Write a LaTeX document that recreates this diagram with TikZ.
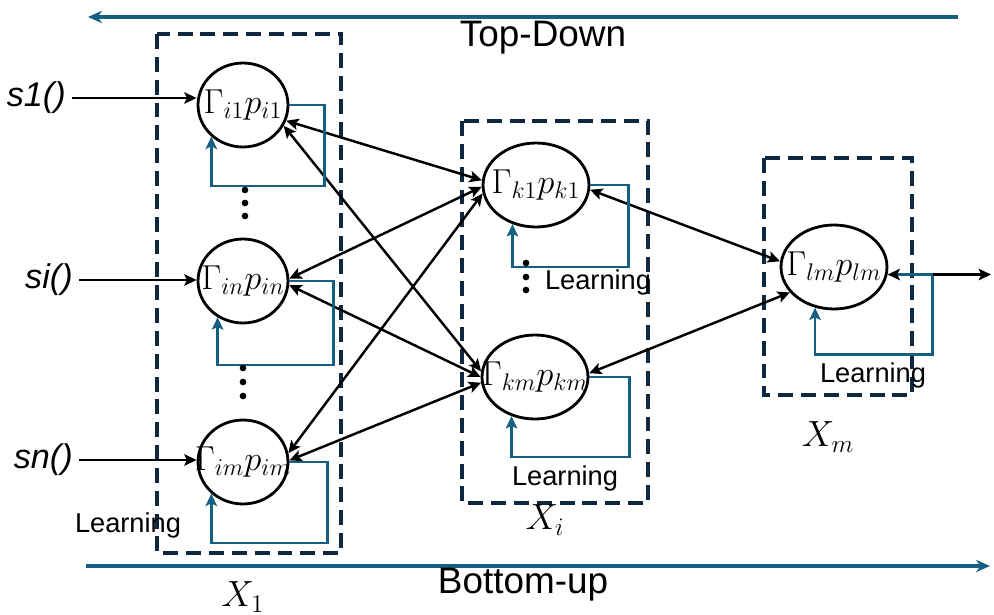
\documentclass[tikz,border=0pt]{standalone}
\usepackage{amsmath}
\usepackage{graphicx}
\usepackage[no-math]{fontspec}
\setmainfont{Liberation Sans}
\usepackage{tikz}
\usetikzlibrary{arrows.meta, shapes.geometric}

\definecolor{flowblue}{HTML}{156082}
\definecolor{boxnavy}{HTML}{0E2841}

\newcommand{\gammap}[1]{\makebox[0pt]{\scalebox{1.14}{$\Gamma_{#1}p_{#1}$}}}

\begin{document}
\begin{tikzpicture}[x = 0.02cm, y = -0.02cm, >={Stealth[length=7pt, width=6.5pt, inset=1.5pt]},
    neuron/.style = {draw, ellipse, line width = 1.6pt, inner sep = 0pt, minimum width = 1.8cm, minimum height = 1.68cm, font = \fontsize{17.28}{20}\selectfont},
    wideneuron/.style = {minimum width = 2.12cm},
    group/.style = {draw = boxnavy, line width = 1.8pt, dash pattern = on 8.5pt off 4.5pt},
    learn/.style = {draw = flowblue, line width = 1.5pt},
    link/.style = {<->, line width = 1.4pt},
    flow/.style = {draw = flowblue, line width = 1.8pt, -{Stealth[length=8pt, width=7pt]}},
    flowlabel/.style = {font = \fontsize{21}{25}\selectfont},
    learnlabel/.style = {font = \fontsize{15.5}{18}\selectfont},
    signal/.style = {anchor = east, font = \fontsize{19.5}{23}\selectfont\itshape},
    grouplabel/.style = {font = \fontsize{20.74}{25}\selectfont}]
  \useasboundingbox (0,0) rectangle (994,615);

  \coordinate (tdright) at (958,17);
  \coordinate (tdleft) at (88,17);
  \coordinate (buleft) at (86,566);
  \coordinate (buright) at (990,566);
  \coordinate (lmout) at (991,274);
  \draw[flow] (tdright) -- (tdleft);
  \draw[flow] (buleft) -- (buright);
  \node[flowlabel] (topdown) at (543,38) {Top-Down};
  \node[flowlabel] (bottomup) at (523,585) {Bottom-up};

  \draw[group] (157,34) rectangle (341,553);
  \draw[group] (462,121) rectangle (648,503);
  \draw[group] (764,158) rectangle (912,395);
  \node[grouplabel] (lab-1) at (243,597) {$X_1$};
  \node[grouplabel] (lab-i) at (545,520) {$X_i$};
  \node[grouplabel] (lab-m) at (828,437) {$X_m$};

  \node[neuron] (g-i1) at (243,105) {\gammap{i1}};
  \node[neuron] (g-in) at (243,281) {\gammap{in}};
  \node[neuron] (g-im) at (243,462) {\gammap{im}};
  \node[neuron, wideneuron] (g-k1) at (536,185) {\gammap{k1}};
  \node[neuron, wideneuron] (g-km) at (535,377) {\gammap{km}};
  \node[neuron, wideneuron] (g-lm) at (834,267) {\gammap{lm}};

  \node[signal] (s1) at (72,98) {s1()};
  \node[signal] (si) at (79,280) {si()};
  \node[signal] (sn) at (79,460) {sn()};
  \path[->, line width = 1.4pt] (s1.east) edge (s1.east -| g-i1.west)
                                (si.east) edge (si.east -| g-in.west)
                                (sn.east) edge (sn.east -| g-im.west);

  \path[link] (g-i1.-20) edge (g-k1.175)
              (g-i1.-27) edge (g-km.174)
              (g-in.3) edge (g-k1.182)
              (g-in.-5) edge (g-km.180)
              (g-im.11) edge (g-k1.189)
              (g-im.2) edge (g-km.186)
              (g-k1.-5) edge (g-lm.174)
              (g-km.4) edge (g-lm.210);

  \draw[learn, ->] (g-i1.east) -- ++(35,0) -- ++(0,81) -| (g-i1.225);
  \draw[learn, ->] (g-in.east) -- ++(44,0) -- ++(0,84) -| (g-in.235);
  \draw[learn, ->] (g-im.east) -- ++(38,0) -- ++(0,81) -| (g-im.225);
  \draw[learn, ->] (g-k1.east) -- ++(38,0) -- ++(0,82) -| (g-k1.239);
  \draw[learn, ->] (g-km.east) -- ++(40,0) -- ++(0,80) -| (g-km.239);
  \draw[learn, {Stealth[length=7pt, width=6.5pt, inset=1.5pt, black]}-{Stealth[length=7pt, width=6.5pt, inset=1.5pt]}]
    (g-lm.-8) -- ++(45,0) coordinate (lmjoin) -- ++(0,80) -| (g-lm.245);
  \draw[->, line width = 1.4pt] (lmjoin) -- (lmjoin -| lmout);

  \node[learnlabel] (l-im) at (128,525) {Learning};
  \node[learnlabel] (l-k1) at (598,282) {Learning};
  \node[learnlabel] (l-km) at (565,478) {Learning};
  \node[learnlabel] (l-lm) at (873,375) {Learning};

  \foreach \y in {190,203,216} \fill (245,\y) circle (1.9pt);
  \foreach \y in {368,382,396} \fill (243,\y) circle (1.9pt);
  \foreach \y in {263,277,290} \fill (526,\y) circle (1.9pt);
\end{tikzpicture}
\end{document}
